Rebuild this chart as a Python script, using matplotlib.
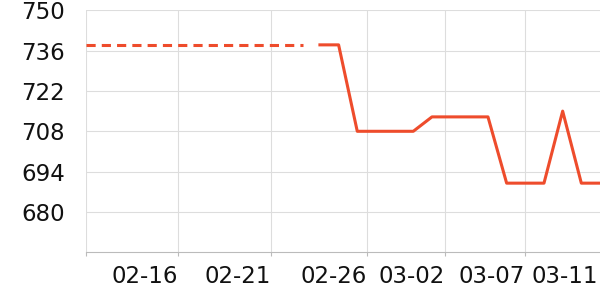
import matplotlib
matplotlib.use("Agg")
import matplotlib.pyplot as plt

# daily index of the solid series (last 16 days)
days = list(range(12, 28))
price = [738, 738, 708, 708, 708, 708, 713, 713, 713, 713,
         690, 690, 690, 715, 690, 690]

# dashed reference line (earlier period)
ref_days = [-0.53, 11.1]
ref_price = [738, 738]

tick_days = [-0.53, 4.4, 9.38, 14.52, 18.7, 22.98, 26.89]
tick_labels = ["", "02-16", "02-21", "02-26", "03-02", "03-07", "03-11"]
y_ticks = [680, 694, 708, 722, 736, 750]

color = "#ee4c2c"

fig = plt.figure(figsize=(6, 3), dpi=100)
ax = fig.add_axes([0.1433, 0.159, 0.8567, 0.8067])

ax.plot(days, price, color=color, linewidth=2.2, clip_on=False)
ax.plot(ref_days, ref_price, color=color, linewidth=2.2, linestyle=(0, (3, 2)))

ax.set_xlim(-0.53, 27)
ax.set_ylim(666, 750)
ax.set_yticks(y_ticks)
ax.set_xticks(tick_days)
ax.set_xticklabels(tick_labels, ha="right")

ax.grid(True, color="#dddddd", linewidth=0.8)
ax.set_axisbelow(True)
for s in ["top", "right", "left"]:
    ax.spines[s].set_visible(False)
ax.spines["bottom"].set_color("#bbbbbb")
ax.spines["bottom"].set_linewidth(0.8)

ax.tick_params(axis="y", length=0, pad=15, labelsize=16.5, labelcolor="#111111")
ax.tick_params(axis="x", length=3, width=0.8, color="#bbbbbb", pad=6,
               labelsize=16.5, labelcolor="#111111")

# last label sits on the right edge without tick or gridline
last = ax.xaxis.get_major_ticks()[-1]
last.tick1line.set_visible(False)
last.gridline.set_visible(False)

fig.savefig("out.png", dpi=100)
